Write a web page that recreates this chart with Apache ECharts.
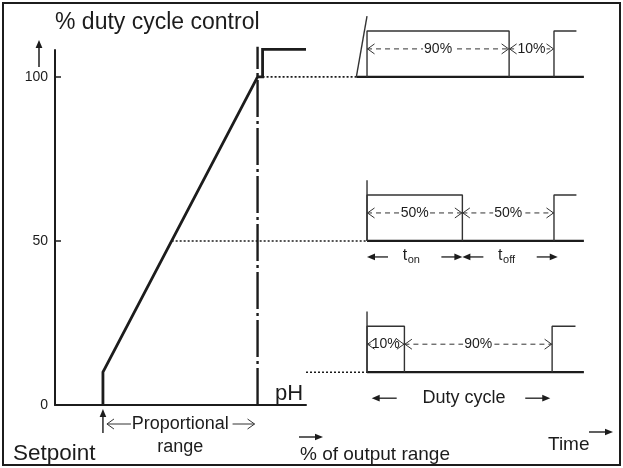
<!DOCTYPE html>
<html><head><meta charset="utf-8">
<script src="https://cdn.jsdelivr.net/npm/echarts@6/dist/echarts.min.js"></script>
<style>html,body{margin:0;padding:0;background:#fff}#c{width:623px;height:468px}</style>
</head><body><div id="c"></div>
<script>
// ---------------- data ----------------
const yTickValues = [0, 50, 100];
const yTickLabels = ['0', '50', '100'];
// controller characteristic (x: pH scale units 0..100, y: % duty cycle)
const rampX = [19.1, 19.1, 80.7, 82.7, 82.7, 100];
const rampY = [0, 10, 100, 100, 108.4, 108.4];
const setpointX = 19.1;
const propEndX = 80.7;
const dashDotTop = 109.2;
// duty-cycle waveforms (x: time units, one cycle = 100)
const waveLevels = [100, 50, 10];
const waveStarts = [-5.7, 0, 0];
const onEnds = [76, 51, 20];
const periods = [100, 100, 99];
const nextPulseEnds = [112, 112, 111.5];
const waveEnd = 116;
const pulseHeight = 14;
const markerHeight = 18.5;
const onLabels = ['90%', '50%', '10%'];
const offLabels = ['10%', '50%', '90%'];
const tOnSpan = [0, 51];
const tOffSpan = [51, 102];
const dutySpan = [2.5, 98];

// ---------------- layout / style ----------------
const FONT = '"Liberation Sans", Arial, Helvetica, sans-serif';
const INK = '#1c1c1c';
const INK2 = '#333';
const X_MAX = 100, T_MIN = -6, T_MAX = 116, Y_MAX = 108.2;
const G0 = {left: 55, top: 50, width: 251, height: 355};
const G1 = {left: 355.8, top: 50, width: 228.1, height: 355};

const chart = echarts.init(document.getElementById('c'), null, {renderer: 'canvas'});

function arrowEls(x1, y1, x2, y2, o) {
  o = o || {};
  const hl = o.hl || 8, hw = o.hw || 3.4, lw = o.lw || 1.3;
  const dx = x2 - x1, dy = y2 - y1, L = Math.hypot(dx, dy), ux = dx / L, uy = dy / L;
  const bx = x2 - ux * hl, by = y2 - uy * hl;
  return [
    {type: 'line', shape: {x1: x1, y1: y1, x2: bx + ux, y2: by + uy}, style: {stroke: INK, lineWidth: lw}},
    {type: 'polygon', shape: {points: [[x2, y2], [bx - uy * hw, by + ux * hw], [bx + uy * hw, by - ux * hw]]}, style: {fill: INK}}
  ];
}
function chevron(x, y, dir, dx, dy) {
  dx = dx || 7; dy = dy || 5;
  return {type: 'polyline', shape: {points: [[x - dir * dx, y - dy], [x, y], [x - dir * dx, y + dy]]},
          style: {stroke: INK2, lineWidth: 1, fill: null}};
}
function txt(s, x, y, size, align, extra) {
  return {type: 'text', style: Object.assign({text: s, x: x, y: y, font: size + 'px ' + FONT, fill: INK,
          align: align || 'left', verticalAlign: 'middle'}, extra || {})};
}

function lineSeries(xi, data, ls) {
  return {type: 'line', xAxisIndex: xi, yAxisIndex: xi, data: data, symbol: 'none', silent: true,
          clip: false, animation: false, lineStyle: Object.assign({color: INK, width: 1.4}, ls)};
}

const series = [];
// characteristic curve
series.push(lineSeries(0, rampX.map((x, i) => [x, rampY[i]]), {width: 2.8, join: 'miter'}));
// end of proportional range (dash-dot)
series.push(lineSeries(0, [[propEndX, 0], [propEndX, dashDotTop]], {width: 2.4, type: [37, 4, 3, 4]}));
// waveforms
waveLevels.forEach((lv, i) => {
  series.push(lineSeries(1, [[waveStarts[i], lv], [waveEnd, lv]], {width: 2.2}));
  series.push(lineSeries(1, [[0, lv], [0, lv + pulseHeight], [onEnds[i], lv + pulseHeight], [onEnds[i], lv]], {width: 1.4, color: INK2}));
  series.push(lineSeries(1, [[periods[i], lv], [periods[i], lv + pulseHeight], [nextPulseEnds[i], lv + pulseHeight]], {width: 1.4, color: INK2}));
  series.push(lineSeries(1, [[waveStarts[i], lv], [0, lv + markerHeight]], {width: 1.4, color: INK2}));
});

// waveform annotations
function spanArrows(api, span, lv, off, armLen, label) {
  const y = api.coord([0, lv])[1] + off;
  const xa = api.coord([span[0], lv])[0], xb = api.coord([span[1], lv])[0];
  const els = [].concat(arrowEls(xa + armLen, y, xa, y), arrowEls(xb - armLen, y, xb, y));
  const cx = (xa + xb) / 2;
  if (label.sub !== undefined) {
    els.push(txt(label.main, cx - 12, y - 1.5, 16, 'left'));
    els.push(txt(label.sub, cx - 7, y + 3, 11, 'left'));
  } else {
    els.push(txt(label.main, cx + 3, y, 18, 'center'));
  }
  return els;
}
series.push({
  type: 'custom', xAxisIndex: 1, yAxisIndex: 1, clip: false, silent: true, animation: false,
  data: waveLevels.map((lv, i) => [i, lv]),
  renderItem: function (params, api) {
    const i = api.value(0), lv = waveLevels[i];
    const base = api.coord([0, lv])[1];
    const yLab = base - 28;
    const children = [];
    [[0, onEnds[i], onLabels[i]], [onEnds[i], periods[i], offLabels[i]]].forEach(function (s) {
      const xa = api.coord([s[0], lv])[0], xb = api.coord([s[1], lv])[0];
      children.push({type: 'line', shape: {x1: xa, y1: yLab, x2: xb, y2: yLab}, style: {stroke: INK2, lineWidth: 1, lineDash: [5, 4]}});
      children.push(txt(s[2], (xa + xb) / 2, yLab, 14, 'center', {backgroundColor: '#fff', padding: [1, 1]}));
      children.push(chevron(xa + 0.5, yLab, -1));
      children.push(chevron(xb - 0.5, yLab, 1));
    });
    if (i === 1) {
      spanArrows(api, tOnSpan, lv, 16, 21, {main: 't', sub: 'on'}).forEach(e => children.push(e));
      spanArrows(api, tOffSpan, lv, 16, 21, {main: 't', sub: 'off'}).forEach(e => children.push(e));
    }
    if (i === 2) {
      spanArrows(api, dutySpan, lv, 26, 25, {main: 'Duty cycle'}).forEach(e => children.push(e));
    }
    return {type: 'group', children: children};
  }
});
// proportional range annotation + setpoint arrow
series.push({
  type: 'custom', xAxisIndex: 0, yAxisIndex: 0, clip: false, silent: true, animation: false,
  data: [[setpointX, 0]],
  renderItem: function (params, api) {
    const p0 = api.coord([setpointX, 0]), p1 = api.coord([propEndX, 0]);
    const y = p0[1] + 19;
    const children = [];
    arrowEls(p0[0], p0[1] + 28, p0[0], p0[1] + 4, {hl: 8, hw: 3.3, lw: 1.4}).forEach(e => children.push(e));
    children.push({type: 'line', shape: {x1: p0[0] + 4, y1: y, x2: p0[0] + 28, y2: y}, style: {stroke: INK2, lineWidth: 1}});
    children.push(chevron(p0[0] + 4, y, -1, 7, 5));
    children.push({type: 'line', shape: {x1: p1[0] - 25, y1: y, x2: p1[0] - 3, y2: y}, style: {stroke: INK2, lineWidth: 1}});
    children.push(chevron(p1[0] - 3, y, 1, 7, 5));
    const cx = (p0[0] + p1[0]) / 2;
    children.push(txt('Proportional', cx, y, 18, 'center'));
    children.push(txt('range', cx, y + 23, 18, 'center'));
    return {type: 'group', children: children};
  }
});

chart.setOption({
  animation: false,
  backgroundColor: '#fff',
  grid: [
    {left: G0.left, top: G0.top, width: G0.width, height: G0.height},
    {left: G1.left, top: G1.top, width: G1.width, height: G1.height}
  ],
  xAxis: [
    {gridIndex: 0, type: 'value', min: 0, max: X_MAX,
     axisLine: {show: true, onZero: false, lineStyle: {color: INK, width: 2}},
     axisTick: {show: false}, axisLabel: {show: false}, splitLine: {show: false}},
    {gridIndex: 1, type: 'value', min: T_MIN, max: T_MAX, show: false}
  ],
  yAxis: [
    {gridIndex: 0, type: 'value', min: 0, max: Y_MAX, interval: 50,
     axisLine: {show: true, onZero: false, lineStyle: {color: INK, width: 2}},
     axisTick: {show: true, inside: true, length: 6, lineStyle: {color: INK, width: 1.5},
                customValues: yTickValues.filter(v => v > 0)},
     axisLabel: {margin: 7, color: INK, fontSize: 14, fontFamily: FONT, customValues: yTickValues,
                 formatter: function (v) { const k = yTickValues.indexOf(v); return k >= 0 ? yTickLabels[k] : ''; }},
     splitLine: {show: false}},
    {gridIndex: 1, type: 'value', min: 0, max: Y_MAX, show: false}
  ],
  series: series
});

// connectors between the characteristic and the waveforms (positions via the library's scales)
const rampAt50X = rampX[1] + (50 - rampY[1]) / (rampY[2] - rampY[1]) * (rampX[2] - rampX[1]);
const connFrom = [[rampX[3], waveLevels[0]], [rampAt50X, waveLevels[1]], [X_MAX, waveLevels[2]]];
const graphic = [];
connFrom.forEach((p, i) => {
  const a = chart.convertToPixel({gridIndex: 0}, p);
  const b = chart.convertToPixel({gridIndex: 1}, [waveStarts[i], waveLevels[i]]);
  graphic.push({type: 'line', shape: {x1: a[0], y1: a[1], x2: b[0], y2: b[1]},
                style: {stroke: INK, lineWidth: 1.6, lineDash: [2, 2]}, silent: true});
});
graphic.push({type: 'rect', shape: {x: 3, y: 3, width: 617, height: 462}, style: {fill: null, stroke: INK, lineWidth: 2}});
graphic.push(txt('% duty cycle control', 55, 22.5, 23));
arrowEls(39, 67, 39, 40, {hl: 8, hw: 3.4, lw: 1.5}).forEach(e => graphic.push(e));
graphic.push(txt('Setpoint', 13, 454, 22.5));
graphic.push(txt('pH', 275, 394, 22));
graphic.push(txt('% of output range', 300, 455, 19));
arrowEls(299, 437, 323, 437, {hl: 8, hw: 3.3, lw: 1.4}).forEach(e => graphic.push(e));
graphic.push(txt('Time', 548, 445, 19));
arrowEls(589, 432, 613, 432, {hl: 8, hw: 3.3, lw: 1.4}).forEach(e => graphic.push(e));
chart.setOption({graphic: graphic});
</script>
</body></html>
